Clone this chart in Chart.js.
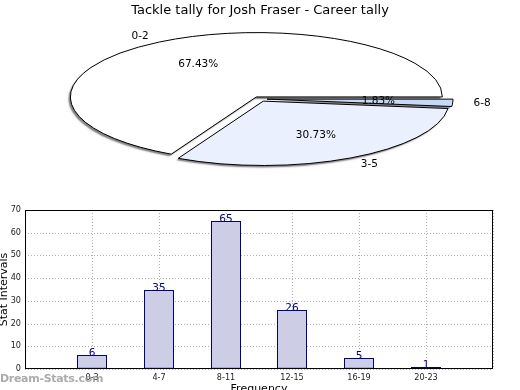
<!DOCTYPE html>
<html><head><meta charset="utf-8">
<script src="https://cdn.jsdelivr.net/npm/chart.js@4"></script>
<style>
html,body{margin:0;padding:0;background:#fff;overflow:hidden;width:520px;height:390px;}
#wrap{position:relative;width:520px;height:390px;overflow:hidden;background:#fff;}
#bar{position:absolute;left:0;top:0;}
#pie{position:absolute;left:0;top:0;}
#title{position:absolute;top:2px;left:0;width:520px;text-align:center;font:13px 'DejaVu Sans',sans-serif;color:#000;line-height:16px;}
#wm{position:absolute;left:0;top:372px;font:bold 11px 'DejaVu Sans',sans-serif;color:rgba(150,150,150,0.8);line-height:13px;letter-spacing:-0.3px;}
</style></head><body>
<div id="wrap">
<canvas id="bar" width="520" height="390"></canvas>
<canvas id="pie" width="520" height="460"></canvas>
<div id="title">Tackle tally for Josh Fraser - Career tally</div>
<div id="wm">Dream-Stats.com</div>
</div>
<script>
// ---- data ----
const pieLabels = ['0-2', '6-8', '3-5'];
const piePercents = [67.43, 1.83, 30.73];
const pieColors = ['#ffffff', '#c6d9f8', '#eaf0fd'];

const barLabels = ['0-3', '4-7', '8-11', '12-15', '16-19', '20-23'];
const barValues = [6, 35, 65, 26, 5, 1];

// ---- pie (ellipse) ----
const pieTotal = piePercents.reduce((a, b) => a + b, 0);
const pieRotation = 90 - 360 * piePercents[0] / pieTotal;

const ellipsePie = {
  id: 'ellipsePie',
  beforeDatasetsDraw(chart, args, o) {
    const ctx = chart.ctx;
    const meta = chart.getDatasetMeta(0);
    const cy = meta.data[0].y;
    const base = ctx.getTransform();
    ctx.save();
    ctx.translate(0, o.centerY);
    ctx.scale(1, o.squash);
    ctx.translate(0, -cy);
    ctx.shadowColor = o.shadowColor;
    ctx.shadowOffsetX = -2; ctx.shadowOffsetY = 2; ctx.shadowBlur = 1.5;
    const proto = CanvasRenderingContext2D.prototype.stroke;
    ctx.stroke = function () {
      this.save();
      this.setTransform(base);
      this.shadowColor = 'rgba(0,0,0,0)';
      proto.apply(this, arguments);
      this.restore();
    };
    meta.data.forEach(arc => {
      if (!arc._wrapped) {
        const orig = arc.draw;
        arc.draw = function (c, a) {
          const mid = (this.startAngle + this.endAngle) / 2;
          c.save();
          c.translate(Math.cos(mid) * o.explode, Math.sin(mid) * o.explode);
          orig.call(this, c, a);
          c.restore();
        };
        arc._wrapped = true;
      }
    });
  },
  afterDatasetsDraw(chart, args, o) {
    const ctx = chart.ctx;
    delete ctx.stroke;
    ctx.restore();
    const meta = chart.getDatasetMeta(0);
    const cy = meta.data[0].y;
    const map = (x, y) => [x, o.centerY + (y - cy) * o.squash];
    ctx.save();
    ctx.fillStyle = '#000';
    ctx.font = o.font;
    ctx.textBaseline = 'middle';
    meta.data.forEach((arc, i) => {
      const mid = (arc.startAngle + arc.endAngle) / 2;
      const r = arc.outerRadius;
      const ex = arc.x + Math.cos(mid) * o.explode, ey = arc.y + Math.sin(mid) * o.explode;
      const [px, py] = map(ex + Math.cos(mid) * r * 0.6, ey + Math.sin(mid) * r * 0.6);
      ctx.textAlign = 'center';
      ctx.fillText(piePercents[i].toFixed(2) + '%', px, py);
      const [lx, ly] = map(arc.x + Math.cos(mid) * r * 1.15, arc.y + Math.sin(mid) * r * 1.15);
      ctx.textAlign = Math.cos(mid) >= 0 ? 'left' : 'right';
      ctx.fillText(chart.data.labels[i], lx, ly);
    });
    ctx.restore();
  }
};

new Chart(document.getElementById('pie'), {
  type: 'pie',
  data: {
    labels: pieLabels,
    datasets: [{
      data: piePercents,
      backgroundColor: pieColors,
      borderColor: '#000',
      borderWidth: 1,
      clip: false
    }]
  },
  options: {
    responsive: false,
    animation: false,
    rotation: pieRotation,
    radius: 186,
    layout: { padding: 0 },
    events: [],
    plugins: {
      legend: { display: false },
      tooltip: { enabled: false },
      ellipsePie: { centerY: 99, squash: 0.346, explode: 7, shadowColor: 'rgba(0,0,0,0.5)', font: "10.5px 'DejaVu Sans', sans-serif" }
    }
  },
  plugins: [ellipsePie]
});

// ---- bars ----
const tickFont = { family: "'Liberation Sans Narrow', 'DejaVu Sans Condensed', 'DejaVu Sans', sans-serif", size: 9 };
const frame = {
  id: 'frame',
  afterDraw(chart) {
    const { ctx, chartArea: a } = chart;
    ctx.save();
    ctx.strokeStyle = '#000';
    ctx.lineWidth = 1;
    ctx.strokeRect(Math.round(a.left) + 0.5, Math.round(a.top) + 0.5, Math.round(a.right - a.left) - 1, Math.round(a.bottom - a.top) - 1);
    ctx.restore();
  }
};
const valueLabels = {
  id: 'valueLabels',
  afterDraw(chart) {
    const ctx = chart.ctx;
    const meta = chart.getDatasetMeta(0);
    ctx.save();
    ctx.fillStyle = '#000080';
    ctx.font = "10.5px 'DejaVu Sans', sans-serif";
    ctx.textAlign = 'center';
    ctx.textBaseline = 'alphabetic';
    meta.data.forEach((bar, i) => {
      ctx.fillText(String(barValues[i]), bar.x, bar.y + 1);
    });
    ctx.restore();
  }
};

new Chart(document.getElementById('bar'), {
  type: 'bar',
  data: {
    datasets: [{
      data: barValues.map((v, i) => ({ x: i + 1, y: v })),
      backgroundColor: '#cdcde6',
      borderColor: '#000080',
      borderWidth: 1,
      borderSkipped: false,
      inflateAmount: 0,
      barPercentage: 0.4546,
      categoryPercentage: 1
    }]
  },
  options: {
    responsive: false,
    animation: false,
    events: [],
    layout: { padding: { top: 210, right: 27, left: 0, bottom: 0 } },
    plugins: { legend: { display: false }, tooltip: { enabled: false } },
    scales: {
      x: {
        type: 'linear', min: 0, max: 7, offset: false, z: 1, alignToPixels: true,
        afterFit(s) { s.height = 21; },
        ticks: { stepSize: 1, autoSkip: false, maxRotation: 0, padding: 3, color: '#222', font: tickFont,
                 callback: (v) => barLabels[v - 1] ?? '' },
        grid: { offset: false, color: '#b0b0b0', drawTicks: false, lineWidth: 1 },
        border: { display: false, dash: [1, 2] },
        title: { display: true, text: 'Frequency', color: '#000', font: { family: "'DejaVu Sans', sans-serif", size: 11 }, padding: { top: 0, bottom: -6 } }
      },
      y: {
        min: 0, max: 70, alignToPixels: true,
        afterFit(s) { s.width = 25; },
        ticks: { stepSize: 10, padding: 4, color: '#222', font: tickFont },
        grid: { color: '#b0b0b0', drawTicks: false, lineWidth: 1 },
        border: { display: false, dash: [1, 2] },
        title: { display: true, text: 'Stat Intervals', color: '#000', font: { family: "'DejaVu Sans', sans-serif", size: 11 }, padding: { top: -2, bottom: 0 } }
      }
    }
  },
  plugins: [frame, valueLabels]
});
</script>
</body></html>
